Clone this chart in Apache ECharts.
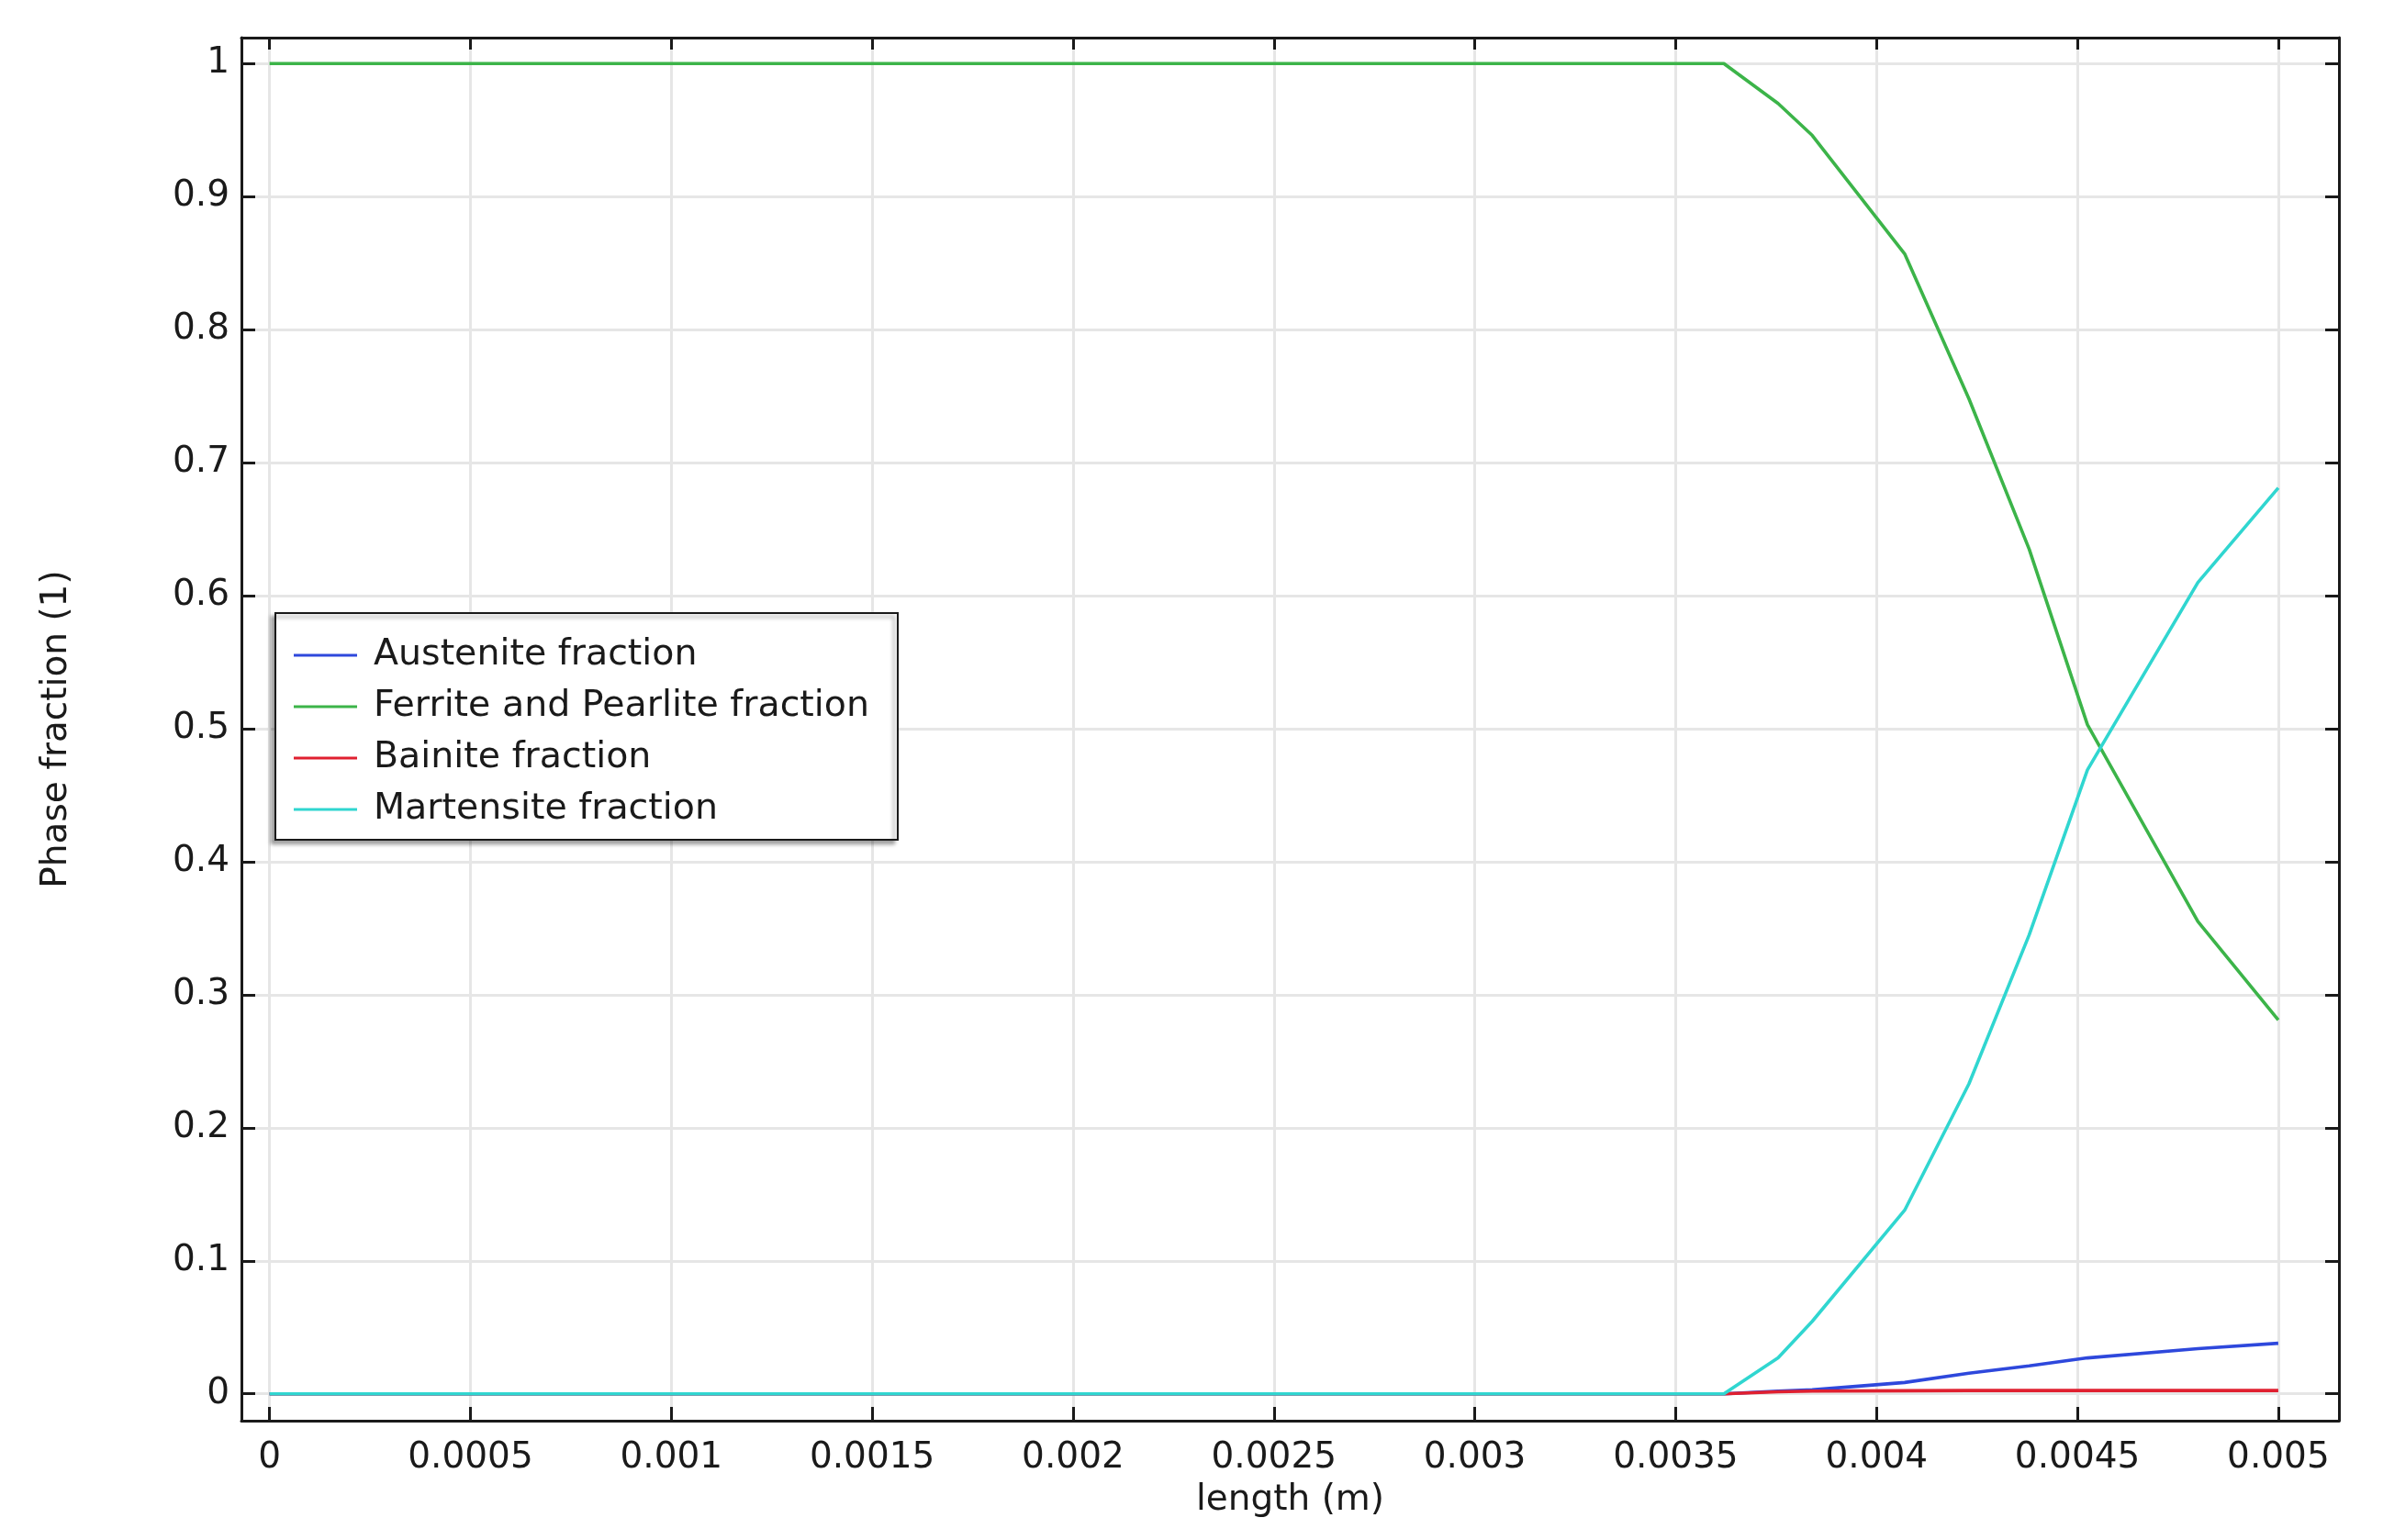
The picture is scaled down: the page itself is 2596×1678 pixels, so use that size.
<!DOCTYPE html>
<html>
<head>
<meta charset="utf-8">
<script src="https://cdn.jsdelivr.net/npm/echarts@6/dist/echarts.min.js"></script>
<style>
  html, body { margin: 0; padding: 0; background: #ffffff; }
  #chart { width: 2596px; height: 1678px; }
</style>
</head>
<body>
<div id="chart"></div>
<script>
// ---- data ----
const lengthValues = [0, 0.00362, 0.003755, 0.00384, 0.00407, 0.00423, 0.00438, 0.004525, 0.0048, 0.005];
const austenite   = [0, 0, 0.002, 0.003, 0.0085, 0.0155, 0.021, 0.027, 0.034, 0.038];
const ferritePearlite = [1, 1, 0.970, 0.946, 0.857, 0.748, 0.635, 0.503, 0.355, 0.281];
const bainite     = [0, 0, 0.0015, 0.002, 0.0023, 0.0025, 0.0025, 0.0025, 0.0025, 0.0025];
const martensite  = [0, 0, 0.027, 0.0545, 0.138, 0.233, 0.345, 0.469, 0.610, 0.681];

const seriesNames = ['Austenite fraction', 'Ferrite and Pearlite fraction', 'Bainite fraction', 'Martensite fraction'];
const seriesColors = ['#2e48dc', '#3cb449', '#e02030', '#30d6d0'];

const xTickValues = [0, 0.0005, 0.001, 0.0015, 0.002, 0.0025, 0.003, 0.0035, 0.004, 0.0045, 0.005];
const xTickLabels = ['0', '0.0005', '0.001', '0.0015', '0.002', '0.0025', '0.003', '0.0035', '0.004', '0.0045', '0.005'];
const yTickValues = [0, 0.1, 0.2, 0.3, 0.4, 0.5, 0.6, 0.7, 0.8, 0.9, 1];
const yTickLabels = ['0', '0.1', '0.2', '0.3', '0.4', '0.5', '0.6', '0.7', '0.8', '0.9', '1'];

const xMin = -0.00007, xMax = 0.005151;
const yMin = -0.0202, yMax = 1.0195;

function labelFor(values, labels, v) {
  let best = 0, bd = Infinity;
  for (let i = 0; i < values.length; i++) {
    const d = Math.abs(values[i] - v);
    if (d < bd) { bd = d; best = i; }
  }
  return labels[best];
}

const FONT = 'DejaVu Sans';
const axisColor = '#1a1a1a';
const gridColor = '#e6e6e6';

const allY = [austenite, ferritePearlite, bainite, martensite];
const series = allY.map((ys, k) => ({
  name: seriesNames[k],
  type: 'line',
  xAxisIndex: 0,
  yAxisIndex: 0,
  symbol: 'none',
  showSymbol: false,
  smooth: false,
  animation: false,
  lineStyle: { color: seriesColors[k], width: 3.6 },
  itemStyle: { color: seriesColors[k] },
  data: lengthValues.map((x, i) => [x, ys[i]])
}));

const chart = echarts.init(document.getElementById('chart'), null, { renderer: 'canvas' });
chart.setOption({
  backgroundColor: '#ffffff',
  animation: false,
  textStyle: { fontFamily: FONT },
  grid: { left: 263, right: 48, top: 41, bottom: 130, containLabel: false },
  legend: {
    orient: 'vertical',
    left: 300,
    top: 668,
    icon: 'rect',
    itemWidth: 69,
    itemHeight: 3,
    itemGap: 16,
    padding: [26, 31, 13, 20],
    backgroundColor: '#ffffff',
    borderColor: '#1a1a1a',
    borderWidth: 2,
    borderRadius: 0,
    shadowColor: 'rgba(0,0,0,0.35)',
    shadowBlur: 4,
    shadowOffsetX: -4,
    shadowOffsetY: 4,
    textStyle: { fontFamily: FONT, fontSize: 39.5, color: '#1a1a1a', lineHeight: 40, padding: [0, 0, 0, 13] },
    data: seriesNames
  },
  xAxis: [
    {
      type: 'value', position: 'bottom', min: xMin, max: xMax,
      name: 'length (m)', nameLocation: 'middle', nameGap: 67,
      nameTextStyle: { fontFamily: FONT, fontSize: 39, color: '#1a1a1a' },
      axisLine: { show: true, onZero: false, lineStyle: { color: axisColor, width: 3 } },
      axisTick: { show: true, inside: true, length: 15, customValues: xTickValues, lineStyle: { color: axisColor, width: 3 } },
      axisLabel: { show: true, margin: 21, customValues: xTickValues, fontFamily: FONT, fontSize: 39, color: '#1a1a1a',
                   formatter: v => labelFor(xTickValues, xTickLabels, v) },
      splitLine: { show: true, lineStyle: { color: gridColor, width: 3 } }
    },
    {
      type: 'value', position: 'top', min: xMin, max: xMax,
      axisLine: { show: true, onZero: false, lineStyle: { color: axisColor, width: 3 } },
      axisTick: { show: true, inside: true, length: 13, customValues: xTickValues, lineStyle: { color: axisColor, width: 3 } },
      axisLabel: { show: false },
      splitLine: { show: false }
    }
  ],
  yAxis: [
    {
      type: 'value', position: 'left', min: yMin, max: yMax,
      name: 'Phase fraction (1)', nameLocation: 'middle', nameGap: 182, nameRotate: 90,
      nameTextStyle: { fontFamily: FONT, fontSize: 39, color: '#1a1a1a' },
      axisLine: { show: true, onZero: false, lineStyle: { color: axisColor, width: 3 } },
      axisTick: { show: true, inside: true, length: 15, customValues: yTickValues, lineStyle: { color: axisColor, width: 3 } },
      axisLabel: { show: true, margin: 13, customValues: yTickValues, fontFamily: FONT, fontSize: 39, color: '#1a1a1a',
                   formatter: v => labelFor(yTickValues, yTickLabels, v) },
      splitLine: { show: true, lineStyle: { color: gridColor, width: 3 } }
    },
    {
      type: 'value', position: 'right', min: yMin, max: yMax,
      axisLine: { show: true, onZero: false, lineStyle: { color: axisColor, width: 3 } },
      axisTick: { show: true, inside: true, length: 15, customValues: yTickValues, lineStyle: { color: axisColor, width: 3 } },
      axisLabel: { show: false },
      splitLine: { show: false }
    }
  ],
  series: series
});
</script>
</body>
</html>
